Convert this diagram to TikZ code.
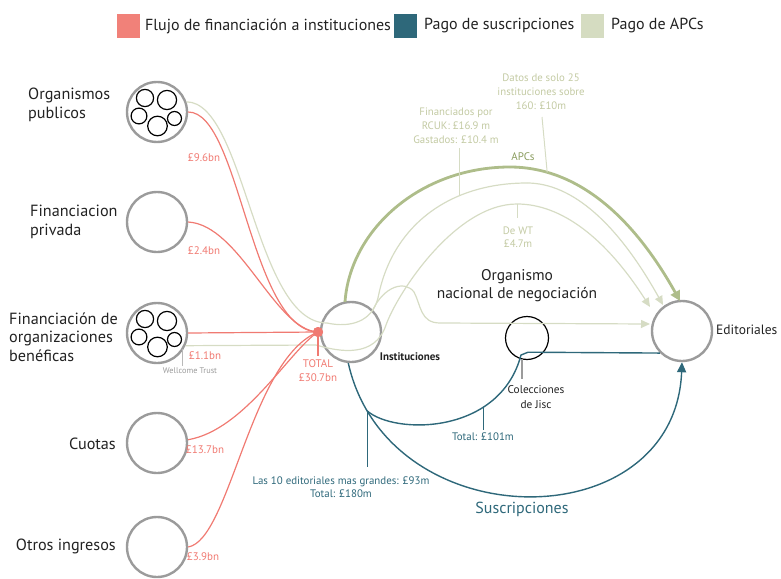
\documentclass[tikz,border=0pt]{standalone}
\usepackage{fontspec}
\setmainfont{PT Sans}
\usetikzlibrary{arrows.meta}
\definecolor{cred}{HTML}{F07A72}
\definecolor{cblue}{HTML}{2E687A}
\definecolor{clegg}{HTML}{D5DCC1}
\definecolor{cgrnline}{HTML}{D6DCC4}
\definecolor{cgrnthick}{HTML}{AEBD8A}
\definecolor{cgrntext}{HTML}{C3CAA3}
\definecolor{capc}{HTML}{8A9C5E}
\definecolor{cgray}{HTML}{9B9B9B}
\definecolor{ctext}{HTML}{222222}
\newcommand\myfs[2]{\fontsize{#1}{#2}\selectfont}
\begin{document}
\begin{tikzpicture}[x=1pt,y=-1pt,
  bigc/.style={circle,draw=cgray,line width=2.4pt,minimum size=60pt,inner sep=0pt},
  subc/.style={draw=black,line width=1.2pt},
  legsq/.style={draw=none,minimum width=23pt,minimum height=24pt,inner sep=0pt},
  legtxt/.style={anchor=west,font=\myfs{16}{18},inner sep=0pt,text=ctext},
  redl/.style={draw=cred,line width=1.2pt},
  grnl/.style={draw=cgrnline,line width=1.2pt},
  bluel/.style={draw=cblue,line width=1.4pt},
  redlbl/.style={text=cred,font=\myfs{11}{14},align=center,inner sep=0pt},
  grnlbl/.style={text=cgrntext,font=\myfs{10.8}{14},align=center,inner sep=0pt},
  bluelbl/.style={text=cblue,font=\myfs{10.9}{13},align=center,inner sep=0pt},
  leftlbl/.style={font=\myfs{16.2}{18.5},align=left,inner sep=0pt,text=ctext},
  smalllbl/.style={font=\myfs{11.3}{14},align=center,inner sep=0pt,text=ctext},
]
\useasboundingbox (0,0) rectangle (781,578);

% legend
\node[legsq,fill=cred!95] (lsq1) at (128.5,26) {};
\node[legtxt] (ltx1) at (145,26) {Flujo de financiación a instituciones};
\node[legsq,fill=cblue] (lsq2) at (405.5,26) {};
\node[legtxt] (ltx2) at (424,26) {Pago de suscripciones};
\node[legsq,fill=clegg] (lsq3) at (592,26) {};
\node[legtxt] (ltx3) at (611,26) {Pago de APCs};

% left circles
\node[bigc] (org) at (157,112) {};
\node[bigc] (priv) at (157,222) {};
\node[bigc] (benef) at (157,333) {};
\node[bigc] (cuot) at (157,443) {};
\node[bigc] (otros) at (157,547) {};
\foreach \dx/\dy/\r in {-12/-14/8.6, 10/-12/9.6, -18/4/7.9, 0.5/14/9.8, 17.5/6.5/7.0}{
  \draw[subc] ([shift={(\dx,\dy)}]org.center) circle[radius=\r pt];
  \draw[subc] ([shift={(\dx,\dy)}]benef.center) circle[radius=\r pt];
}

% left labels
\node[leftlbl,anchor=west] (torg) at (28,105) {Organismos\\publicos};
\node[leftlbl,anchor=west] (tpriv) at (30,222) {Financiacion\\privada};
\node[leftlbl,anchor=west] (tbenef) at (9,337) {Financiación de\\organizaciones\\benéficas};
\node[leftlbl,anchor=east] (tcuot) at (116,444) {Cuotas};
\node[leftlbl,anchor=east] (totros) at (116,546) {Otros ingresos};

% main circles
\node[bigc] (inst) at (351,332) {};
\node[bigc] (edit) at (682,331) {};
\node[circle,draw=black,line width=1.2pt,minimum size=43pt,inner sep=0pt] (jisc) at (527,338) {};

% green APC lines (behind)
\coordinate (orgin) at (327,323);
\coordinate (mjoin) at (378,298);
\coordinate (mpeak) at (527,183);
\coordinate (mend) at (663,305);
\draw[grnl] (org.19) .. controls (245,102) and (255,323) .. (orgin)
   .. controls (350,328) and (372,322) .. coordinate[pos=0.8] (wst) (mjoin)
   .. controls (392,225) and (450,183) .. coordinate[pos=0.68] (rcukpt) (mpeak);
\draw[grnl,-{Triangle[length=9pt,width=8pt,fill=cgrnline]}] (mpeak) .. controls (572.3,183) and (617.7,223.7) .. (mend);

\coordinate (wtin) at (316,345);
\coordinate (ijoin) at (386,325);
\coordinate (ipeak) at (517,204);
\coordinate (iend) at (650,307);
\draw[grnl] (benef.-24) -- (wtin) .. controls (340,352) and (375,358) .. (ijoin)
   .. controls (397,294) and (455,204) .. (ipeak);
\draw[grnl,-{Triangle[length=9pt,width=8pt,fill=cgrnline]}] (ipeak) .. controls (561.7,204) and (606,238.3) .. (iend);
\coordinate (wtend) at (517,218);

\coordinate (wend) at (650,324);
\draw[grnl,-{Triangle[length=9pt,width=8pt,fill=cgrnline]}] (wst) .. controls (384,286) and (405,280) .. (414,292)
   .. controls (421,305) and (420,323) .. (440,323) -- (wend);

\coordinate (tstart) at (345,302);
\coordinate (tpeak) at (510,167);
\coordinate (tend) at (680,301);
\draw[draw=cgrnthick,line width=2.8pt] (tstart) .. controls (350,230) and (420,167) .. (tpeak);
\draw[draw=cgrnthick,line width=2.8pt,-{Triangle[length=10pt,width=10pt,fill=cgrnthick]}] (tpeak) .. controls (573.3,167) and (630,211.3) .. coordinate[pos=0.2] (datpt) (tend);

% green labels
\node[text=capc,font=\myfs{11}{13},inner sep=0pt] (apc) at (523,157) {APCs};
\node[grnlbl] (datlbl) at (541,92) {Datos de solo 25\\instituciones sobre\\160: £10m};
\coordinate (datend) at (542,117);
\draw[grnl,line width=1pt] (datend) -- (datpt);
\node[grnlbl] (rcuklbl) at (456,126) {Financiados por\\RCUK: £16.9 m\\Gastados: £10.4 m};
\coordinate (rcukend) at (rcukpt |- 0,148);
\draw[grnl,line width=1pt] (rcukend) -- (rcukpt);
\node[grnlbl,font=\myfs{10.8}{13}] (wtlbl) at (518,237) {De WT\\£4.7m};
\draw[grnl,line width=1pt] (ipeak) -- (wtend);

% red lines
\node[circle,fill=cred,minimum size=10pt,inner sep=0pt] (dot) at (318,332) {};
\draw[redl] (org.east) .. controls (240,112) and (250,330) .. (dot.center);
\draw[redl] (priv.east) .. controls (240,225) and (275,330) .. (dot.center);
\draw[redl] (benef.east) -- (dot.center);
\draw[redl] (cuot.6) .. controls (245,430) and (290,350) .. (dot.center);
\draw[redl] (otros.east) .. controls (230,540) and (250,360) .. (dot.center);
\node[circle,fill=cred,minimum size=10pt,inner sep=0pt] (dot2) at (dot) {};
\coordinate (dotend) at (318,356);
\draw[redl] (dot.center) -- (dotend);
\node[redlbl] (ttot) at (318,371) {TOTAL\\£30.7bn};
\node[redlbl] (r1) at (204,158) {£9.6bn};
\node[redlbl] (r2) at (204,251) {£2.4bn};
\node[redlbl] (r3) at (205,356) {£1.1bn};
\node[redlbl] (r4) at (205,450) {£13.7bn};
\node[redlbl] (r5) at (203,557) {£3.9bn};
\coordinate (wct1) at (182,349);
\coordinate (wct2) at (182,366);
\draw[draw=cgray!70,line width=0.8pt] (wct1) -- (wct2);
\node[text=cgray,font=\myfs{8.3}{10},inner sep=0pt] (wctxt) at (190,371) {Wellcome Trust};

% blue lines
\draw[bluel,-{Triangle[length=10pt,width=9pt]}] (inst.-95) .. controls (388,540) and (675,540) .. coordinate[pos=0.1] (br) (edit.south);
\coordinate (jin) at (521,355);
\coordinate (jh) at (528,352.2);
\draw[bluel] (br) .. controls (395,435) and (500,435) .. coordinate[pos=0.7] (t101) (jin) -- (jh) -- (edit.225);
\coordinate (brend) at (br |- 0,467);
\draw[bluel,line width=1.1pt] (br) -- (brend);
\coordinate (t101end) at (t101 |- 0,430);
\draw[bluel,line width=1.1pt] (t101) -- (t101end);
\node[bluelbl] (l93) at (341,487) {Las 10 editoriales mas grandes: £93m\\Total: £180m};
\node[bluelbl] (l101) at (483,437) {Total: £101m};
\node[text=cblue,font=\myfs{16}{18},inner sep=0pt] (susc) at (522,509) {Suscripciones};

% jisc tick
\coordinate (jt1) at (522,359);
\coordinate (jt2) at (522,379);
\draw[draw=cgray,line width=1.1pt] (jt1) -- (jt2);

% black labels
\node[smalllbl,font=\bfseries\myfs{11}{13}] (tinst) at (410,357) {Instituciones};
\node[font=\myfs{13.5}{15},inner sep=0pt,anchor=west,text=ctext] (tedit) at (716,330) {Editoriales};
\node[font=\myfs{15.5}{18},align=center,inner sep=0pt,text=ctext] (tonn) at (517,286) {Organismo\\nacional de negociación};
\node[smalllbl,font=\myfs{11.3}{15}] (tjisc) at (536,397) {Colecciones\\de Jisc};
\end{tikzpicture}
\end{document}
